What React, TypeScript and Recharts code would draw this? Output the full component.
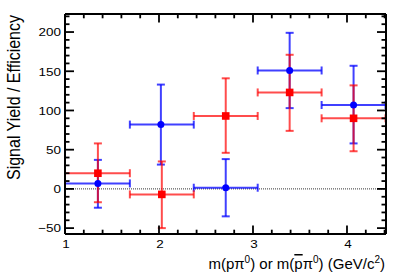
import React from 'react';
import { ComposedChart, Scatter, XAxis, YAxis, ErrorBar, ReferenceLine, Label } from 'recharts';

const binEdges = [1.0, 1.69, 2.37, 3.05, 3.73, 4.41];
const blueX = [1.35, 2.02, 2.71, 3.39, 4.07];
const blueY = [7, 82, 1.5, 151, 107];
const blueHigh = [37, 133, 38, 199, 157];
const blueLow = [-24, 31, -35, 103, 58];
const redX = [1.35, 2.03, 2.71, 3.39, 4.07];
const redY = [20, -7, 93, 123, 90];
const redHigh = [58, 35, 141, 171, 132];
const redLow = [-17, -50, 46, 74, 48];

const xMajor = [1, 2, 3, 4];
const xTicks = [1, 1.2, 1.4, 1.6, 1.8, 2, 2.2, 2.4, 2.6, 2.8, 3, 3.2, 3.4, 3.6, 3.8, 4, 4.2, 4.4];
const yMajor = [-50, 0, 50, 100, 150, 200];
const yTicks = [-50, -40, -30, -20, -10, 0, 10, 20, 30, 40, 50, 60, 70, 80, 90, 100, 110, 120, 130, 140, 150, 160, 170, 180, 190, 200, 210, 220];

const xDomain = [1, 4.415];
const yDomain = [-57.5, 223];

const buildData = (xs: number[], ys: number[], hi: number[], lo: number[]) =>
  xs.map((x, i) => ({
    x,
    y: ys[i],
    ex: [x - binEdges[i], binEdges[i + 1] - x],
    ey: [ys[i] - lo[i], hi[i] - ys[i]],
  }));

const blueData = buildData(blueX, blueY, blueHigh, blueLow);
const redData = buildData(redX, redY, redHigh, redLow);

const FONT = '"Liberation Sans", Arial, Helvetica, sans-serif';
const fmt = (v: number) => (v < 0 ? '\u2212' + Math.abs(v) : String(v));
const isMajor = (arr: number[], v: number) => arr.some((m) => Math.abs(m - v) < 1e-9);

const LeftTick = (props: any) => {
  const { x, y, payload } = props;
  const major = isMajor(yMajor, payload.value);
  return (
    <g>
      <line x1={x} x2={x + (major ? 9 : 4.5)} y1={y} y2={y} stroke="#000" strokeWidth={1.8} />
      {major && (
        <text
          x={0}
          y={0}
          transform={`translate(${x - 4},${y + 4.3}) scale(1.16,1)`}
          textAnchor="end"
          fontFamily={FONT}
          fontSize={11.6}
          fill="#000"
        >
          {fmt(payload.value)}
        </text>
      )}
    </g>
  );
};

const RightTick = (props: any) => {
  const { x, y, payload } = props;
  const major = isMajor(yMajor, payload.value);
  return <line x1={x} x2={x - (major ? 9 : 4.5)} y1={y} y2={y} stroke="#000" strokeWidth={1.8} />;
};

const BottomTick = (props: any) => {
  const { x, y, payload } = props;
  const major = isMajor(xMajor, payload.value);
  return (
    <g>
      <line x1={x} x2={x} y1={y} y2={y - (major ? 8.5 : 4.3)} stroke="#000" strokeWidth={1.8} />
      {major && (
        <text
          x={0}
          y={0}
          transform={`translate(${x + 1},${y + 14}) scale(1.16,1)`}
          textAnchor="middle"
          fontFamily={FONT}
          fontSize={11.6}
          fill="#000"
        >
          {fmt(payload.value)}
        </text>
      )}
    </g>
  );
};

const TopTick = (props: any) => {
  const { x, y, payload } = props;
  const major = isMajor(xMajor, payload.value);
  return <line x1={x} x2={x} y1={y} y2={y + (major ? 8.5 : 4.3)} stroke="#000" strokeWidth={1.8} />;
};

const XTitle = (props: any) => {
  const vb = props.viewBox || {};
  const x = vb.x + vb.width - 1;
  const y = vb.y + 35;
  return (
    <text x={x} y={y} textAnchor="end" fontFamily={FONT} fontSize={15} fill="#000">
      <tspan>m(p</tspan>
      <tspan>{'\u03C0'}</tspan>
      <tspan dy={-6} fontSize={10}>0</tspan>
      <tspan dy={6}>) or m(</tspan>
      <tspan style={{ textDecoration: 'overline' }}>p</tspan>
      <tspan>{'\u03C0'}</tspan>
      <tspan dy={-6} fontSize={10}>0</tspan>
      <tspan dy={6}>) (GeV/c</tspan>
      <tspan dy={-6} fontSize={10}>2</tspan>
      <tspan dy={6}>)</tspan>
    </text>
  );
};

const YTitle = (props: any) => {
  const vb = props.viewBox || {};
  const tx = vb.x + 20;
  const ty = vb.y + 1;
  return (
    <text
      x={0}
      y={0}
      transform={`translate(${tx},${ty}) scale(1.16,1) rotate(-90)`}
      textAnchor="end"
      fontFamily={FONT}
      fontSize={16}
      fill="#000"
    >
      Signal Yield / Efficiency
    </text>
  );
};

const BlueDot = (props: any) => {
  const { cx, cy } = props;
  return <circle cx={cx} cy={cy} r={3.5} fill="#0000ff" />;
};

const RedSquare = (props: any) => {
  const { cx, cy } = props;
  return <rect x={cx - 3.8} y={cy - 3.8} width={7.6} height={7.6} fill="#ff0000" />;
};

const NoShape = () => <g />;

export default function App() {
  return (
    <div style={{ position: 'absolute', left: 0, top: 0 }}>
      <ComposedChart width={407} height={279} margin={{ top: 13, right: 20, bottom: 0, left: 0 }}>
        <XAxis
          dataKey="x"
          type="number"
          domain={xDomain}
          allowDataOverflow
          ticks={xTicks}
          interval={0}
          tickSize={0}
          tickMargin={0}
          tickLine={false}
          tick={<BottomTick />}
          axisLine={{ stroke: '#000', strokeWidth: 2 }}
          height={45}
        >
          <Label content={<XTitle />} />
        </XAxis>
        <XAxis
          xAxisId="top"
          orientation="top"
          dataKey="x"
          type="number"
          domain={xDomain}
          allowDataOverflow
          ticks={xTicks}
          interval={0}
          tickSize={0}
          tickMargin={0}
          tickLine={false}
          tick={<TopTick />}
          axisLine={{ stroke: '#000', strokeWidth: 2 }}
          height={1}
        />
        <YAxis
          type="number"
          domain={yDomain}
          allowDataOverflow
          ticks={yTicks}
          interval={0}
          tickSize={0}
          tickMargin={0}
          tickLine={false}
          tick={<LeftTick />}
          axisLine={{ stroke: '#000', strokeWidth: 2 }}
          width={65}
        >
          <Label content={<YTitle />} />
        </YAxis>
        <YAxis
          yAxisId="right"
          orientation="right"
          type="number"
          domain={yDomain}
          allowDataOverflow
          ticks={yTicks}
          interval={0}
          tickSize={0}
          tickMargin={0}
          tickLine={false}
          tick={<RightTick />}
          axisLine={{ stroke: '#000', strokeWidth: 2 }}
          width={1}
        />
        <ReferenceLine y={0} stroke="#333" strokeWidth={1} strokeDasharray="1 1" />
        <Scatter
          data={blueData}
          dataKey="y"
          xAxisId="top"
          yAxisId="right"
          shape={<NoShape />}
          legendType="none"
          isAnimationActive={false}
        />
        <Scatter data={blueData} dataKey="y" shape={<BlueDot />} isAnimationActive={false}>
          <ErrorBar dataKey="ex" direction="x" width={4} stroke="#0000ff" strokeWidth={2} strokeOpacity={0.75} />
          <ErrorBar dataKey="ey" direction="y" width={4} stroke="#0000ff" strokeWidth={2} strokeOpacity={0.75} />
        </Scatter>
        <Scatter data={redData} dataKey="y" shape={<RedSquare />} isAnimationActive={false}>
          <ErrorBar dataKey="ex" direction="x" width={4} stroke="#ff0000" strokeWidth={2} strokeOpacity={0.7} />
          <ErrorBar dataKey="ey" direction="y" width={4} stroke="#ff0000" strokeWidth={2} strokeOpacity={0.7} />
        </Scatter>
      </ComposedChart>
    </div>
  );
}
